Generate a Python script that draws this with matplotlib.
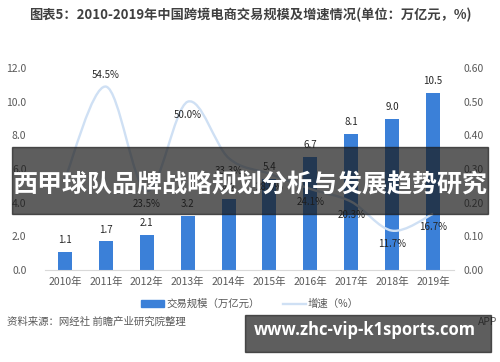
import matplotlib
matplotlib.use("Agg")
import matplotlib.pyplot as plt
from matplotlib.path import Path
from matplotlib.patches import PathPatch, Rectangle, Patch
from matplotlib.lines import Line2D
import numpy as np

plt.rcParams['font.family'] = ['Noto Sans CJK SC', 'DejaVu Sans']

# data
years = ['2010年', '2011年', '2012年', '2013年', '2014年',
         '2015年', '2016年', '2017年', '2018年', '2019年']
scale = [1.1, 1.7, 2.1, 3.2, 4.2, 5.4, 6.7, 8.1, 9.0, 10.5]
growth = [0.27, 0.545, 0.235, 0.50, 0.333, 0.286, 0.241, 0.203, 0.117, 0.167]
growth_labels = ['', '54.5%', '23.5%', '50.0%', '33.3%', '28.6%',
                 '24.1%', '20.3%', '11.7%', '16.7%']

bar_color = '#3b80d8'
line_color = '#cfe0f4'
text_color = '#595959'

fig = plt.figure(figsize=(5, 3.62), dpi=100)
ax = fig.add_axes([0.089, 0.254, 0.818, 0.558])
ax2 = ax.twinx()

x = np.arange(len(years))
ax.bar(x, scale, width=0.34, color=bar_color, zorder=2)
for xi, v in zip(x, scale):
    ax.annotate(f'{v:.1f}', (xi, v), xytext=(0, 8.5), textcoords='offset points',
                ha='center', va='center', fontsize=7, color='#262626')

ax.set_xlim(-0.5, len(years) - 0.5)
ax.set_ylim(0, 12)
ax.set_yticks(np.arange(0, 12.1, 2))
ax.set_yticklabels([f'{t:.1f}' for t in np.arange(0, 12.1, 2)])
ax.set_xticks(x)
ax.set_xticklabels(years)
ax2.set_ylim(0, 0.6)
ax2.set_yticks(np.arange(0, 0.61, 0.1))
ax2.set_yticklabels([f'{t:.2f}' for t in np.arange(0, 0.61, 0.1)])

for a in (ax, ax2):
    for s in a.spines.values():
        s.set_visible(False)
    a.tick_params(length=0, labelsize=7.5, colors=text_color)
ax.spines['bottom'].set_visible(True)
ax.spines['bottom'].set_color('#d9d9d9')
ax.tick_params(axis='y', pad=13)
ax.tick_params(axis='x', pad=5)
ax2.tick_params(axis='y', pad=7)

# smoothed growth line (bezier path through the data points)
pts = np.column_stack([x, growth]).astype(float)
verts = [tuple(pts[0])]
codes = [Path.MOVETO]
n = len(pts)
for i in range(n - 1):
    p0 = pts[max(i - 1, 0)]
    p1 = pts[i]
    p2 = pts[i + 1]
    p3 = pts[min(i + 2, n - 1)]
    c1 = p1 + (p2 - p0) / 6
    c2 = p2 - (p3 - p1) / 6
    verts += [tuple(c1), tuple(c2), tuple(p2)]
    codes += [Path.CURVE4] * 3
ax2.add_patch(PathPatch(Path(verts, codes), fill=False, edgecolor=line_color,
                        lw=1.7, zorder=3))
for xi, v, lab in zip(x, growth, growth_labels):
    if not lab:
        continue
    dy = 8 if v > 0.52 else -9.5
    ax2.annotate(lab, (xi, v), xytext=(0, dy), textcoords='offset points',
                 ha='center', va='center', fontsize=7, color='#262626')

# title
fig.text(0.5, 0.958, '图表5：2010-2019年中国跨境电商交易规模及增速情况(单位：万亿元，%)',
         ha='center', va='center', fontsize=9.5, fontweight='bold', color='#404040')

# legend
handles = [Patch(color=bar_color), Line2D([0], [0], color=line_color, lw=1.7)]
fig.legend(handles, ['交易规模（万亿元）', '增速（%）'], loc='center',
           bbox_to_anchor=(0.5, 0.16), ncol=2, frameon=False, fontsize=7.5,
           handlelength=2.2, handleheight=0.6, columnspacing=2.2, handletextpad=0.2,
           labelcolor=text_color)

# source line
fig.text(0.014, 0.11, '资料来源：网经社 前瞻产业研究院整理', ha='left', va='center',
         fontsize=7.5, color=text_color)
fig.text(0.995, 0.11, 'APP', ha='right', va='center',
         fontsize=7.5, color=text_color)

# overlay banner
fig.patches.append(Rectangle((0.024, 0.409), 0.952, 0.185, transform=fig.transFigure,
                             color='#1a1a1a', alpha=0.7, zorder=10))
fig.text(0.5, 0.487, '西甲球队品牌战略规划分析与发展趋势研究', ha='center', va='center',
         fontsize=18, fontweight='bold', color='white', zorder=11)

# url box
fig.patches.append(Rectangle((0.49, 0.028), 0.492, 0.102, transform=fig.transFigure,
                             color='#1a1a1a', alpha=0.7, zorder=10))
fig.text(0.73, 0.088, 'www.zhc-vip-k1sports.com', ha='center', va='center',
         fontsize=12, fontweight='bold', color='white', family='Open Sans', zorder=11)

fig.savefig('out.png', dpi=100)
